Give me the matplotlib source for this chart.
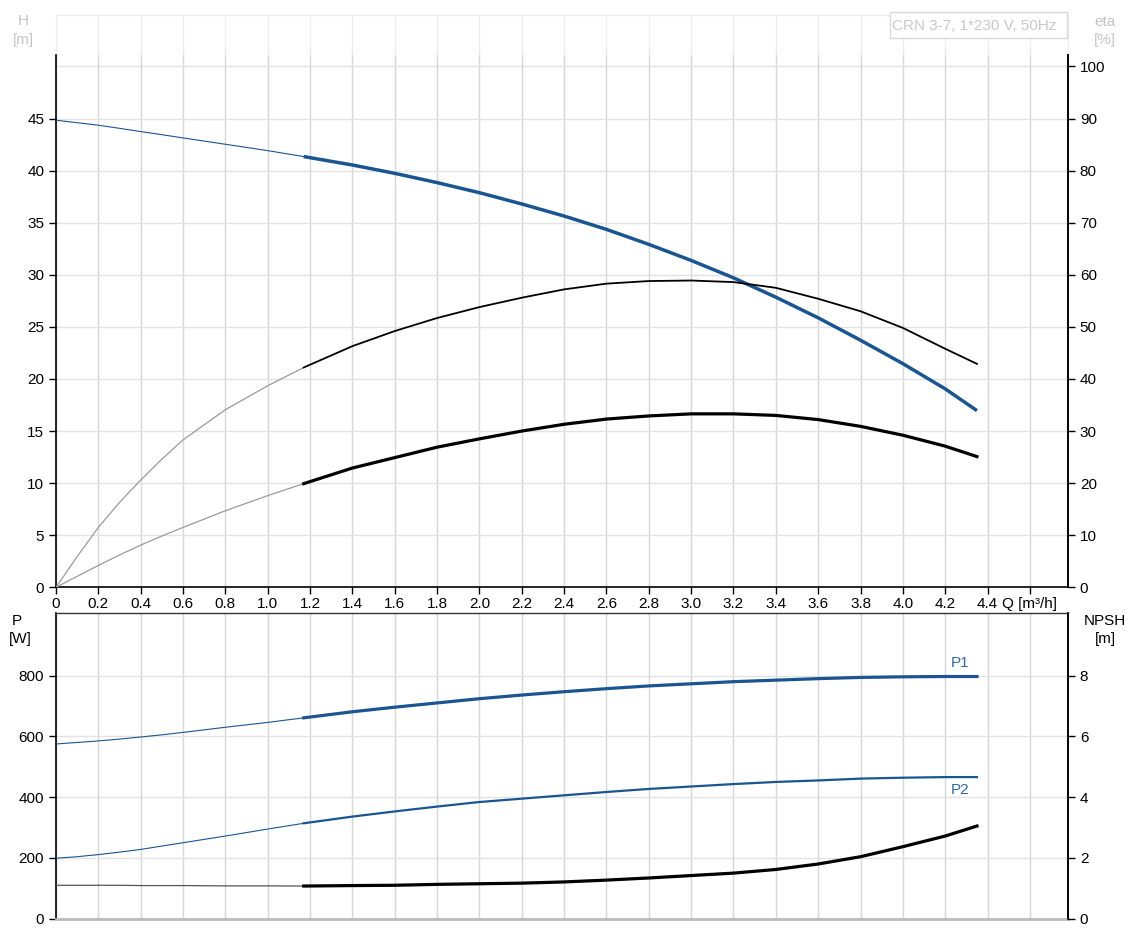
import numpy as np
import matplotlib
matplotlib.use("Agg")
import matplotlib.pyplot as plt
from matplotlib.patches import Rectangle

plt.rcParams['font.family'] = ['Liberation Sans', 'DejaVu Sans']

# Flow rate Q [m³/h]
q = [0, 0.1, 0.2, 0.3, 0.4, 0.5, 0.6, 0.8, 1.0, 1.17, 1.4, 1.6, 1.8, 2.0,
     2.2, 2.4, 2.6, 2.8, 3.0, 3.2, 3.4, 3.6, 3.8, 4.0, 4.2, 4.35]
# Head H [m]
head = [44.84, 44.6, 44.36, 44.06, 43.75, 43.45, 43.14, 42.53, 41.92, 41.35,
        40.54, 39.74, 38.85, 37.88, 36.8, 35.64, 34.36, 32.92, 31.38, 29.71,
        27.85, 25.87, 23.72, 21.47, 19.05, 16.96]
# Pump efficiency [%]
eta_pump = [0, 5.9, 11.5, 16.3, 20.6, 24.6, 28.3, 34.1, 38.7, 42.2, 46.3,
            49.2, 51.7, 53.8, 55.6, 57.2, 58.3, 58.8, 58.9, 58.6, 57.5, 55.4,
            53.0, 49.8, 45.8, 42.9]
# Total efficiency [%]
eta_total = [0, 2.1, 4.2, 6.2, 8.1, 9.85, 11.5, 14.7, 17.6, 19.9, 22.9,
             24.9, 26.9, 28.5, 30.0, 31.3, 32.3, 32.9, 33.3, 33.3, 33.0, 32.2,
             30.9, 29.2, 27.1, 25.1]
# Power input P1 and shaft power P2 [W]
p1 = [575, 580, 585, 591, 598, 605, 613, 630, 646, 661, 681, 696, 710, 724,
      736, 747, 757, 766, 773, 780, 785, 790, 794, 796, 797, 797]
p2 = [199, 204, 211, 219, 228, 239, 250, 272, 295, 314, 336, 353, 369, 384,
      395, 406, 417, 427, 435, 443, 450, 455, 461, 464, 466, 466]
# NPSH [m]
npsh = [1.10, 1.10, 1.10, 1.10, 1.09, 1.09, 1.09, 1.08, 1.08, 1.075, 1.09,
        1.10, 1.13, 1.15, 1.17, 1.21, 1.27, 1.34, 1.42, 1.50, 1.62, 1.80,
        2.04, 2.37, 2.72, 3.05]

q_start = 1.17  # start of the recommended operating range

x_ticks = [0, 0.2, 0.4, 0.6, 0.8, 1.0, 1.2, 1.4, 1.6, 1.8, 2.0, 2.2, 2.4,
           2.6, 2.8, 3.0, 3.2, 3.4, 3.6, 3.8, 4.0, 4.2, 4.4, 4.6]
x_labels = ['0'] + [f'{v:.1f}' for v in x_ticks[1:-1]] + ['Q [m³/h]']
h_ticks = [0, 5, 10, 15, 20, 25, 30, 35, 40, 45]
eta_ticks = [0, 10, 20, 30, 40, 50, 60, 70, 80, 90, 100]
p_ticks = [0, 200, 400, 600, 800]
npsh_ticks = [0, 2, 4, 6, 8]

title = "CRN 3-7, 1*230 V, 50Hz"

BLUE = '#1a5592'
LBLUE = '#2f69a3'
THIN_GREY = '#9a9a9a'
GRID_V = '#d6d6d6'
GRID_H = '#e2e2e2'
GRID_HEAD = '#ededed'
FS = 11

W, Hpx = 1136, 935
fig = plt.figure(figsize=(W / 100, Hpx / 100), dpi=100)


def fx(px):
    return px / W


def fy(py):
    return 1 - py / Hpx


X0, X1 = 56, 1068
XMAX = 4.78

# --- header strip above the upper chart ---
ax_head = fig.add_axes([fx(X0), fy(55), fx(X1) - fx(X0), fy(15) - fy(55)])
ax_head.set_xlim(0, XMAX)
ax_head.set_ylim(0, 1)
for v in x_ticks:
    ax_head.axvline(v, color=GRID_HEAD, lw=1.0)
for s in ['left', 'right', 'top']:
    ax_head.spines[s].set_color(GRID_HEAD)
    ax_head.spines[s].set_linewidth(1.0)
ax_head.spines['bottom'].set_visible(False)
ax_head.set_xticks([])
ax_head.set_yticks([])

fig.patches.append(Rectangle((fx(890), fy(38)), fx(1067) - fx(890),
                             fy(12) - fy(38), transform=fig.transFigure,
                             facecolor='white', edgecolor='#d9d9d9', lw=1.0,
                             zorder=5))
fig.text(fx(974), fy(25.5), title, ha='center', va='center',
         color='#c8c8c8', fontsize=FS, zorder=6)


def split(y):
    qa = np.array(q)
    ya = np.array(y)
    lo = qa <= q_start
    hi = qa >= q_start
    return qa[lo], ya[lo], qa[hi], ya[hi]


def style_axes(ax):
    ax.set_xlim(0, XMAX)
    ax.set_xticks(x_ticks)
    for v in x_ticks:
        ax.axvline(v, color=GRID_V, lw=1.0, zorder=0)
    ax.set_axisbelow(True)


# --- upper chart: head and efficiencies ---
ax_top = fig.add_axes([fx(X0), fy(587.3), fx(X1) - fx(X0),
                       fy(55) - fy(587.3)])
style_axes(ax_top)
ax_top.set_ylim(0, 51.1)
ax_top.set_yticks(h_ticks)
ax_top.set_yticklabels([str(v) for v in h_ticks])
for v in h_ticks[1:] + [50]:
    ax_top.axhline(v, color=GRID_H, lw=1.0, zorder=0)
ax_top.set_xticklabels(x_labels)
ax_top.spines['top'].set_visible(False)
for s in ['left', 'right', 'bottom']:
    ax_top.spines[s].set_color('black')
    ax_top.spines[s].set_linewidth(1.2)
ax_top.tick_params(axis='both', direction='out', length=5, width=1,
                   labelsize=FS, colors='black')
ax_top.tick_params(axis='x', pad=2)

ql, yl, qh, yh = split(head)
ax_top.plot(ql, yl, color=BLUE, lw=0.8, zorder=3)
ax_top.plot(qh, yh, color=BLUE, lw=2.5, zorder=3, solid_capstyle='butt',
            solid_joinstyle='round')

ax_eta = ax_top.twinx()
ax_eta.set_ylim(0, 102.2)
ax_eta.set_yticks(eta_ticks)
ax_eta.set_yticklabels([str(v) for v in eta_ticks])
ax_eta.spines['top'].set_visible(False)
ax_eta.spines['left'].set_visible(False)
ax_eta.spines['bottom'].set_visible(False)
ax_eta.spines['right'].set_color('black')
ax_eta.spines['right'].set_linewidth(1.2)
ax_eta.tick_params(axis='y', direction='out', length=5, width=1,
                   labelsize=FS, colors='black')

ql, yl, qh, yh = split(eta_pump)
ax_eta.plot(ql, yl, color=THIN_GREY, lw=0.9, zorder=2)
ax_eta.plot(qh, yh, color='black', lw=1.3, zorder=2, solid_joinstyle='round')
ql, yl, qh, yh = split(eta_total)
ax_eta.plot(ql, yl, color=THIN_GREY, lw=0.9, zorder=2)
ax_eta.plot(qh, yh, color='black', lw=2.3, zorder=2, solid_joinstyle='round')

# --- lower chart: power and NPSH ---
ax_bot = fig.add_axes([fx(X0), fy(918.7), fx(X1) - fx(X0),
                       fy(613) - fy(918.7)])
style_axes(ax_bot)
ax_bot.set_ylim(0, 1006)
ax_bot.set_yticks(p_ticks)
ax_bot.set_yticklabels([str(v) for v in p_ticks])
for v in p_ticks[1:]:
    ax_bot.axhline(v, color=GRID_H, lw=1.0, zorder=0)
ax_bot.tick_params(axis='x', length=0, labelbottom=False)
ax_bot.tick_params(axis='y', direction='out', length=5, width=1,
                   labelsize=FS, colors='black')
ax_bot.spines['left'].set_color('black')
ax_bot.spines['left'].set_linewidth(1.2)
ax_bot.spines['right'].set_color('black')
ax_bot.spines['right'].set_linewidth(1.2)
ax_bot.spines['top'].set_color('#333333')
ax_bot.spines['top'].set_linewidth(1.0)
ax_bot.spines['bottom'].set_color('#bbbbbb')
ax_bot.spines['bottom'].set_linewidth(2.0)

ql, yl, qh, yh = split(p1)
ax_bot.plot(ql, yl, color=BLUE, lw=0.8, zorder=3)
ax_bot.plot(qh, yh, color=BLUE, lw=2.3, zorder=3, solid_joinstyle='round')
ql, yl, qh, yh = split(p2)
ax_bot.plot(ql, yl, color=BLUE, lw=0.8, zorder=3)
ax_bot.plot(qh, yh, color=BLUE, lw=1.6, zorder=3, solid_joinstyle='round')
ax_bot.text(q[-1] - 0.08, p1[-1] + 22, 'P1', color=LBLUE, fontsize=FS,
            ha='center', va='bottom')
ax_bot.text(q[-1] - 0.08, p2[-1] - 20, 'P2', color=LBLUE, fontsize=FS,
            ha='center', va='top')

ax_npsh = ax_bot.twinx()
ax_npsh.set_ylim(0, 10.06)
ax_npsh.set_yticks(npsh_ticks)
ax_npsh.set_yticklabels([str(v) for v in npsh_ticks])
for s in ['top', 'left', 'bottom']:
    ax_npsh.spines[s].set_visible(False)
ax_npsh.spines['right'].set_color('black')
ax_npsh.spines['right'].set_linewidth(1.2)
ax_npsh.tick_params(axis='y', direction='out', length=5, width=1,
                    labelsize=FS, colors='black')
ql, yl, qh, yh = split(npsh)
ax_npsh.plot(ql, yl, color='#555555', lw=0.9, zorder=2)
ax_npsh.plot(qh, yh, color='black', lw=2.3, zorder=2, solid_joinstyle='round')

# --- axis titles ---
fig.text(fx(23), fy(21), 'H', ha='center', va='center', color='#c4c4c4', fontsize=FS)
fig.text(fx(23), fy(40), '[m]', ha='center', va='center', color='#c4c4c4', fontsize=FS)
fig.text(fx(1105), fy(22), 'eta', ha='center', va='center', color='#c4c4c4', fontsize=FS)
fig.text(fx(1105), fy(40), '[%]', ha='center', va='center', color='#c4c4c4', fontsize=FS)
fig.text(fx(17), fy(621), 'P', ha='center', va='center', color='black', fontsize=FS)
fig.text(fx(20), fy(639), '[W]', ha='center', va='center', color='black', fontsize=FS)
fig.text(fx(1105), fy(621), 'NPSH', ha='center', va='center', color='black', fontsize=FS)
fig.text(fx(1105), fy(639), '[m]', ha='center', va='center', color='black', fontsize=FS)

fig.savefig('out.png', dpi=100, facecolor='white')
